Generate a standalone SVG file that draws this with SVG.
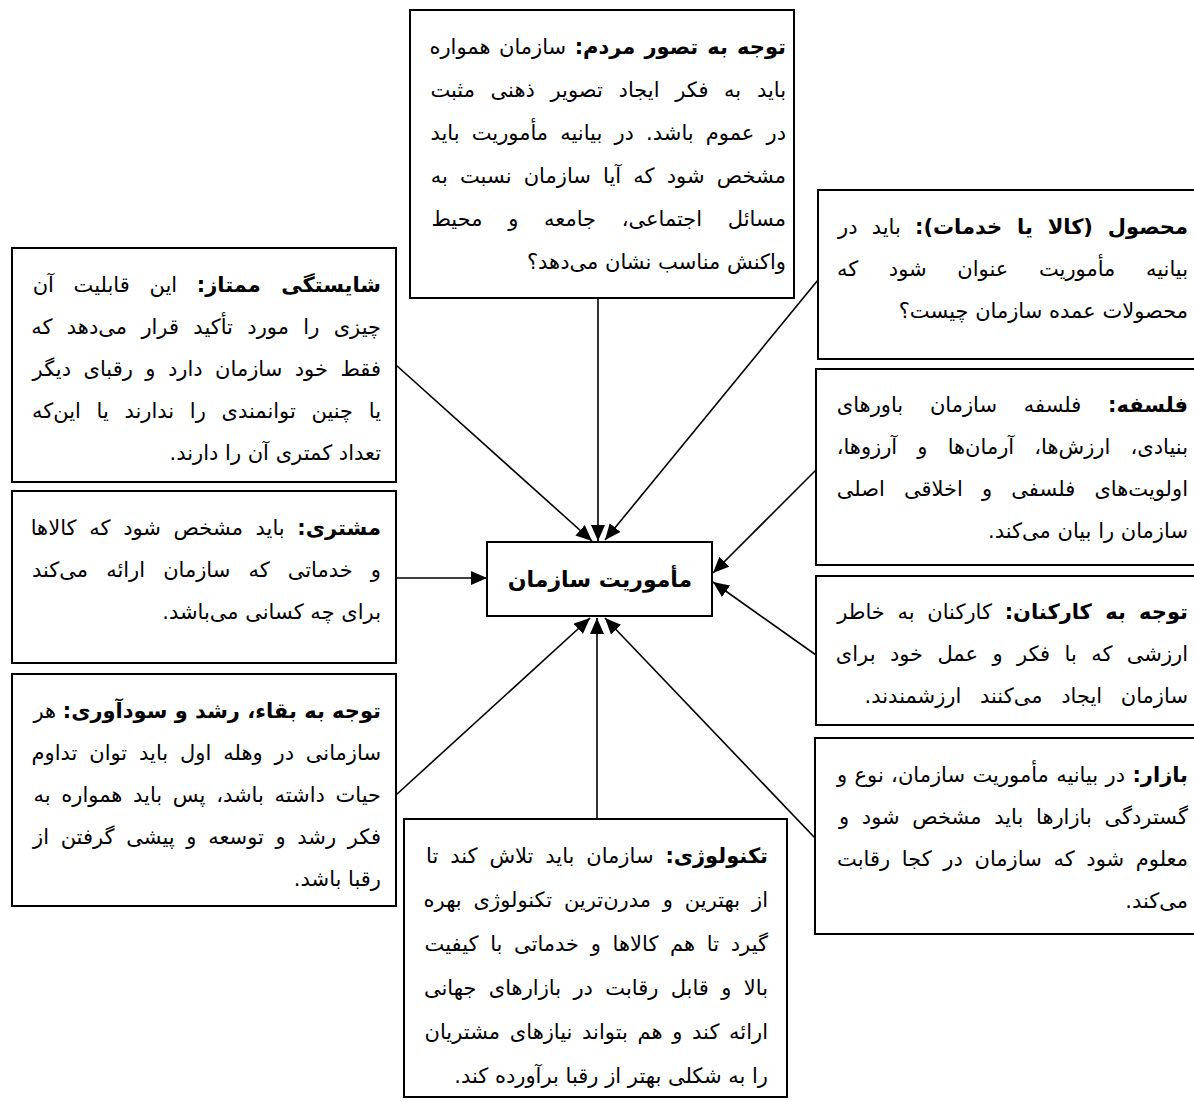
<svg xmlns="http://www.w3.org/2000/svg" width="1194" height="1102" viewBox="0 0 1194 1102">
<style>
.box{fill:#fff;stroke:#000;stroke-width:2}
.t{font-family:"DejaVu Sans",sans-serif;font-size:21px;fill:#000}
.b{font-weight:bold}
.c{font-family:"DejaVu Sans",sans-serif;font-size:22px;font-weight:bold;fill:#000}
.conn{stroke:#000;stroke-width:1.6;fill:none}
</style>
<defs>
<marker id="arr" markerWidth="16" markerHeight="14" refX="16" refY="7" orient="auto" markerUnits="userSpaceOnUse"><path d="M0,0 L16,7 L0,14 z" fill="#000"/></marker>
</defs>
<rect width="1194" height="1102" fill="#fff"/>
<g id="connectors">
<path class="conn" d="M598,298 L598,541" marker-end="url(#arr)"/>
<path class="conn" d="M396,365 L592,541" marker-end="url(#arr)"/>
<path class="conn" d="M818,280 L605,540" marker-end="url(#arr)"/>
<path class="conn" d="M396,578 L487,578" marker-end="url(#arr)"/>
<path class="conn" d="M816,470 L713,573" marker-end="url(#arr)"/>
<path class="conn" d="M816,655 L713,582" marker-end="url(#arr)"/>
<path class="conn" d="M815,838 L605,618" marker-end="url(#arr)"/>
<path class="conn" d="M597,819 L597,618" marker-end="url(#arr)"/>
<path class="conn" d="M396,795 L590,618" marker-end="url(#arr)"/>
</g>
<g id="center">
<rect class="box" x="487" y="542" width="225" height="74"/>
<text class="c" x="600" y="587" text-anchor="middle">مأموریت سازمان</text>
</g>
<g id="top">
<rect class="box" x="410" y="10" width="384" height="288"/>
<text class="t" direction="rtl" text-anchor="start">
<tspan x="786" y="54" word-spacing="1.8"><tspan class="b">توجه به تصور مردم:</tspan> سازمان همواره</tspan>
<tspan x="786" y="97" word-spacing="9">باید به فکر ایجاد تصویر ذهنی مثبت</tspan>
<tspan x="786" y="140" word-spacing="5.5">در عموم باشد. در بیانیه مأموریت باید</tspan>
<tspan x="786" y="183" word-spacing="5.5">مشخص شود که آیا سازمان نسبت به</tspan>
<tspan x="786" y="226" word-spacing="19">مسائل اجتماعی، جامعه و محیط</tspan>
<tspan x="786" y="269">واکنش مناسب نشان می&#8204;دهد؟</tspan>
</text>
</g>
<g id="product">
<rect class="box" x="818" y="190" width="390" height="169"/>
<text class="t" direction="rtl" text-anchor="start">
<tspan x="1188" y="234" word-spacing="7.5"><tspan class="b">محصول (کالا یا خدمات):</tspan> باید در</tspan>
<tspan x="1188" y="276" word-spacing="24">بیانیه مأموریت عنوان شود که</tspan>
<tspan x="1188" y="318">محصولات عمده سازمان چیست؟</tspan>
</text>
</g>
<g id="competence">
<rect class="box" x="12" y="248" width="384" height="234"/>
<text class="t" direction="rtl" text-anchor="start">
<tspan x="381" y="292" word-spacing="13"><tspan class="b">شایستگی ممتاز:</tspan> این قابلیت آن</tspan>
<tspan x="381" y="334" word-spacing="7.7">چیزی را مورد تأکید قرار می&#8204;دهد که</tspan>
<tspan x="381" y="376" word-spacing="5.8">فقط خود سازمان دارد و رقبای دیگر</tspan>
<tspan x="381" y="418" word-spacing="9">یا چنین توانمندی را ندارند یا این&#8204;که</tspan>
<tspan x="381" y="460">تعداد کمتری آن را دارند.</tspan>
</text>
</g>
<g id="philosophy">
<rect class="box" x="816" y="369" width="390" height="196"/>
<text class="t" direction="rtl" text-anchor="start">
<tspan x="1188" y="412" word-spacing="20"><tspan class="b">فلسفه:</tspan> فلسفه سازمان باورهای</tspan>
<tspan x="1188" y="454" word-spacing="13.5">بنیادی، ارزش&#8204;ها، آرمان&#8204;ها و آرزوها،</tspan>
<tspan x="1188" y="496" word-spacing="12.5">اولویت&#8204;های فلسفی و اخلاقی اصلی</tspan>
<tspan x="1188" y="538">سازمان را بیان می&#8204;کند.</tspan>
</text>
</g>
<g id="customer">
<rect class="box" x="12" y="491" width="384" height="172"/>
<text class="t" direction="rtl" text-anchor="start">
<tspan x="381" y="535" word-spacing="6"><tspan class="b">مشتری:</tspan> باید مشخص شود که کالاها</tspan>
<tspan x="381" y="577" word-spacing="11.4">و خدماتی که سازمان ارائه می&#8204;کند</tspan>
<tspan x="381" y="619">برای چه کسانی می&#8204;باشد.</tspan>
</text>
</g>
<g id="employees">
<rect class="box" x="816" y="576" width="390" height="149"/>
<text class="t" direction="rtl" text-anchor="start">
<tspan x="1188" y="619" word-spacing="6"><tspan class="b">توجه به کارکنان:</tspan> کارکنان به خاطر</tspan>
<tspan x="1188" y="661" word-spacing="7.7">ارزشی که با فکر و عمل خود برای</tspan>
<tspan x="1188" y="703" word-spacing="12">سازمان ایجاد می&#8204;کنند ارزشمندند.</tspan>
</text>
</g>
<g id="survival">
<rect class="box" x="12" y="674" width="384" height="232"/>
<text class="t" direction="rtl" text-anchor="start">
<tspan x="381" y="718"><tspan class="b">توجه به بقاء، رشد و سودآوری:</tspan> هر</tspan>
<tspan x="381" y="760" word-spacing="5.2">سازمانی در وهله اول باید توان تداوم</tspan>
<tspan x="381" y="802" word-spacing="4">حیات داشته باشد، پس باید همواره به</tspan>
<tspan x="381" y="844" word-spacing="5">فکر رشد و توسعه و پیشی گرفتن از</tspan>
<tspan x="381" y="886">رقبا باشد.</tspan>
</text>
</g>
<g id="market">
<rect class="box" x="815" y="738" width="390" height="196"/>
<text class="t" direction="rtl" text-anchor="start">
<tspan x="1188" y="782" word-spacing="0.7"><tspan class="b">بازار:</tspan> در بیانیه مأموریت سازمان، نوع و</tspan>
<tspan x="1188" y="824" word-spacing="6">گستردگی بازارها باید مشخص شود و</tspan>
<tspan x="1188" y="866" word-spacing="5">معلوم شود که سازمان در کجا رقابت</tspan>
<tspan x="1188" y="908">می&#8204;کند.</tspan>
</text>
</g>
<g id="technology">
<rect class="box" x="404" y="819" width="383" height="278"/>
<text class="t" direction="rtl" text-anchor="start">
<tspan x="768" y="863" word-spacing="5.2"><tspan class="b">تکنولوژی:</tspan> سازمان باید تلاش کند تا</tspan>
<tspan x="768" y="907" word-spacing="5.2">از بهترین و مدرن&#8204;ترین تکنولوژی بهره</tspan>
<tspan x="768" y="951" word-spacing="5">گیرد تا هم کالاها و خدماتی با کیفیت</tspan>
<tspan x="768" y="995" word-spacing="5.7">بالا و قابل رقابت در بازارهای جهانی</tspan>
<tspan x="768" y="1039" word-spacing="3">ارائه کند و هم بتواند نیازهای مشتریان</tspan>
<tspan x="768" y="1083">را به شکلی بهتر از رقبا برآورده کند.</tspan>
</text>
</g>
</svg>
